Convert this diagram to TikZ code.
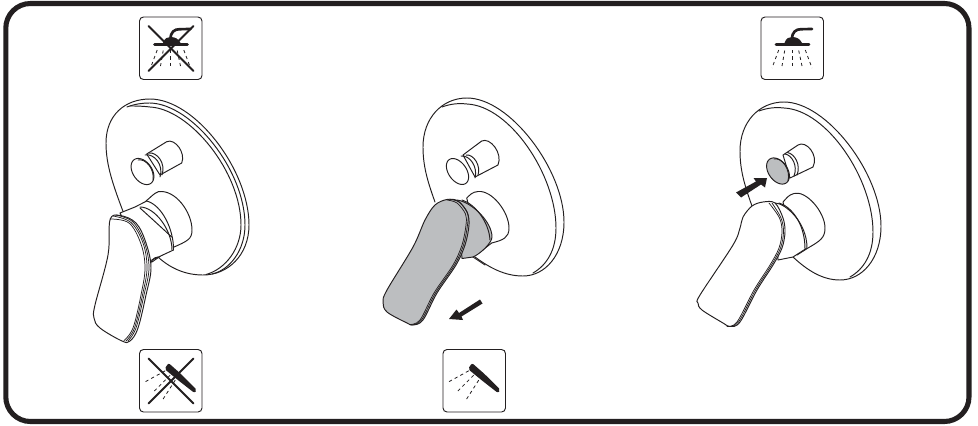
\documentclass[tikz,border=0pt]{standalone}
\definecolor{ink}{RGB}{35,31,32}
\definecolor{levergray}{RGB}{188,190,192}
\newcommand{\TiltEll}[5]{plot[domain=0:360,samples=60,smooth] ({#1+#3*cos(\x)*cos(#5)-#4*sin(\x)*sin(#5)},{#2+#3*cos(\x)*sin(#5)+#4*sin(\x)*cos(#5)})}
\tikzset{
 frameline/.style={draw=ink,line width=3.8pt,rounded corners=18.5pt},
 thin ink/.style={draw=ink,line width=.72pt,line join=round,line cap=round},
 fine ink/.style={draw=ink,line width=.55pt,line join=round,line cap=round},
 white part/.style={thin ink,fill=white},
 gray part/.style={thin ink,fill=levergray},
 solid ink/.style={fill=ink,draw=none},
 spray/.style={draw=ink,line width=.6pt,dash pattern=on 2.4pt off 2.4pt},
 iconbox/.pic={\draw[ink,line width=.7pt,rounded corners=3pt,fill=white] (0,0) rectangle (62.5,62.5);},
 overhead/.pic={
  \draw[ink,line width=2.2pt,line cap=round] (15,27.5) -- (48,27.5);
  \fill[ink] (23.5,26) .. controls (25,21) and (28,20) .. (31,20) .. controls (36,20) and (39,22) .. (41,26) -- cycle;
  \draw[ink,line width=2pt,line cap=round] (31,22) .. controls (31,15) and (35,12.2) .. (40,12.2) -- (51,12);
  \foreach \a/\b/\c/\d in {17.7/33/11/51,23.7/33.5/21/49,31/33/31/51,37.7/33.5/41/49,44.3/33/51/51}
    {\draw[spray] (\a,\b) -- (\c,\d);}
 },
 handshower/.pic={
  \fill[ink,rounded corners=1.5pt] (29,13.5) -- (41.5,24.5) -- (57.5,40.5) -- (55,43.5) -- (39,31) -- (25,19.5) -- cycle;
  \foreach \a/\b/\c/\d in {25.7/21.3/5.7/32.3,30.7/25.7/14/42.3,35.7/30.7/23.3/50}
    {\draw[spray] (\a,\b) -- (\c,\d);}
 },
 crossout/.pic={
  \draw[ink,line width=1.5pt,line cap=round] (9,9) -- (54,54);
  \draw[ink,line width=1.5pt,line cap=round] (54,9) -- (9,54);
 }
}
\begin{document}
\begin{tikzpicture}[x=.75pt,y=-.75pt]
\useasboundingbox (0,0) rectangle (978,425);
\fill[white] (0,0) rectangle (978,425);
\draw[frameline] (5.8,3.5) rectangle (969,421.5);

% ---------- icons
\pic at (139.5,17) {iconbox}; \pic at (139.5,17) {overhead}; \pic at (139.5,17) {crossout};
\pic at (139.5,349.5) {iconbox}; \pic at (139.5,349.5) {handshower}; \pic at (139.5,349.5) {crossout};
\pic at (443,349.5) {iconbox}; \pic at (443,349.5) {handshower};
\pic at (761,17) {iconbox}; \pic at (761,17) {overhead};

% ---------- unit 1
\draw[white part] (124,214) .. controls (113,185) and (106,165) .. (106,143) .. controls (106,115) and (125,99) .. (150,99) .. controls (195,99) and (249,170) .. (249,225) .. controls (249,255) and (228,275) .. (203,275) .. controls (185,275) and (170,268) .. (158,257);
\draw[thin ink] (127,107) .. controls (135,104) and (142,103) .. (150,103) .. controls (192,104) and (245,170) .. (245,225) .. controls (245,250) and (230,270) .. (212,274);
\draw[thin ink] (130,106) .. controls (136,106) and (142,106) .. (150,107) .. controls (190,109) and (241,172) .. (241,225) .. controls (241,248) and (226,269) .. (206,274.5);
% knob
\draw[white part] (146.7,154) -- (166.7,141.7) .. controls (175,138) and (186,153) .. (181.7,163) -- (160,175) -- cycle;
\draw[thin ink] (145,155) .. controls (154,153) and (164,165) .. (160,177);
\draw[thin ink] (149,153) .. controls (157,152) and (166,163) .. (162,175);
\draw[white part] \TiltEll{142.5}{171.5}{14.5}{9.5}{55};
\draw[thin ink] (138,160) .. controls (146,158) and (155,170) .. (153,180);
% hub
\draw[white part] (146,201) .. controls (150,198) and (154,193) .. (158.3,191.7) .. controls (175,189) and (192,212) .. (192,230) .. controls (192,239) and (188,241) .. (171.7,248) -- (152,262) -- cycle;
% neck
\draw[white part] (120,213) -- (135,207) -- (146.7,201) .. controls (162,205) and (174,230) .. (173.5,250) -- (152,260) -- (148,270) -- cycle;
\draw[thin ink] (140,207) .. controls (155,207) and (172,230) .. (172,250);
\draw[thin ink] (140,208) .. controls (150,217) and (162,228) .. (171.7,237);
\draw[thin ink] (152,260) .. controls (154,258) and (156,257) .. (158,257);
% handle
\draw[white part] plot[smooth cycle,tension=.6] coordinates {(110,220) (120,215.5) (136,223) (146,243) (151,268) (146,295) (138,328) (130,341) (122,341) (100,328) (94,318) (95,305) (108,255)};
\draw[fine ink] plot[smooth,tension=.6] coordinates {(116,215) (133,222) (144.5,243) (149,268) (144,295) (136,328) (128,341)};
\draw[fine ink] plot[smooth,tension=.6] coordinates {(113,216) (131,222.5) (143,243) (147,268) (142.5,295) (134.5,328) (126,341)};
\draw[fine ink] plot[smooth,tension=.6] coordinates {(110,219) (129,223) (141,244) (145,268) (141,295) (133,328) (124,340.5)};

% ---------- unit 2
\draw[white part] (435,202) .. controls (427,180) and (423,165) .. (423,147) .. controls (423,118) and (442,98) .. (467,98) .. controls (510,98) and (564,170) .. (564,222) .. controls (564,255) and (545,276) .. (523,276) .. controls (505,276) and (490,268) .. (475,257);
\draw[thin ink] (442,107) .. controls (450,104) and (458,103) .. (467,104) .. controls (510,106) and (556,175) .. (556,228) .. controls (556,250) and (547,265) .. (533,273);
% knob
\draw[white part] (463,155) -- (481.7,141) .. controls (490,137) and (503,153) .. (498,165) -- (475,177) -- cycle;
\draw[thin ink] (461,156) .. controls (470,155) and (478,167) .. (475,178);
\draw[thin ink] (466,155) .. controls (474,154) and (481,166) .. (478,175);
\draw[white part] \TiltEll{457.5}{171.5}{14.5}{9}{55};
% hub and neck
\draw[white part] (466.7,198) .. controls (470,195) and (472,192) .. (478,191.5) .. controls (492,190) and (509,212) .. (509,228) .. controls (509,238) and (503,240) .. (491.7,243) -- (480,252) -- cycle;
\draw[gray part] (457,200) .. controls (472,202) and (492,222) .. (492,237) .. controls (492,243) and (480,254) .. (473,257) -- (462,258.5) -- cycle;
\draw[thin ink] (462,200) .. controls (475,204) and (489,222) .. (490,240);
\draw[thin ink] (473,257) -- (485,265);
% handle
\draw[gray part] plot[smooth cycle,tension=.55] coordinates {(435,205) (447,199.5) (458,201) (467,212) (469,225) (465,245) (456,265) (437,293) (423,320) (413,325) (407,323) (387,312) (383,302) (387,290) (413,247) (425,220)};
\draw[fine ink] plot[smooth,tension=.55] coordinates {(450,199.5) (459,202) (467.5,213) (467.5,225) (463.5,245) (454.5,265) (435.5,293) (421.5,320) (411.5,325)};
\draw[fine ink] plot[smooth,tension=.55] coordinates {(447,200) (457,203) (465.5,214) (466,225) (462,245) (453,265) (434,293) (420,320) (410,324.5)};
% arrow
\fill[solid ink] (449,319) -- (456.5,309.5) -- (459,313) -- (480,299.5) -- (482.5,303.5) -- (461.5,316.5) -- (463,320) -- cycle;

% ---------- unit 3
\draw[white part] (752,206) .. controls (744,184) and (740,169) .. (740,151) .. controls (740,122) and (759,102) .. (784,102) .. controls (827,102) and (881,174) .. (881,226) .. controls (881,259) and (862,280) .. (840,280) .. controls (822,280) and (807,270) .. (793,257);
\draw[thin ink] (759,111) .. controls (767,108) and (775,107) .. (784,108) .. controls (827,110) and (873,179) .. (873,232) .. controls (873,254) and (864,269) .. (850,277);
% knob
\draw[white part] (783,155) -- (798,145) .. controls (806,140) and (819,155) .. (813,167) -- (790,178) -- cycle;
\draw[thin ink] (785,154) .. controls (792,155) and (798,166) .. (794,176);
\draw[thin ink] (787.5,152.5) .. controls (795,154) and (801,165) .. (797,175);
\draw[gray part] \TiltEll{778}{171}{14.5}{9.5}{55};
\draw[thin ink] (774,159) .. controls (782,157) and (791,170) .. (788,181);
% hub and neck
\draw[white part] (783,202) .. controls (786,199) and (788,195) .. (794,193.5) .. controls (806,190) and (825,212) .. (825,228) .. controls (825,238) and (820,241) .. (808,248) -- (797,255) -- cycle;
\draw[white part] (775,203) .. controls (785,203) and (807,222) .. (807,248) -- (793,257) -- (778,260) -- cycle;
\draw[thin ink] (779,203) .. controls (790,206) and (805,222) .. (805,249);
% handle
\draw[white part] plot[smooth cycle,tension=.55] coordinates {(743,217) (752,206) (763,202) (775,203) (783,218) (785,232) (782,248) (773,265) (757,290) (740,322) (730,326.5) (723,323) (702,310) (698,303) (700,295) (733,245) (740,228)};
\draw[fine ink] plot[smooth,tension=.55] coordinates {(772,203) (781,218) (783.5,232) (780.5,248) (771.5,265) (755.5,290) (738.5,322) (728.5,326.5)};
\draw[fine ink] plot[smooth,tension=.55] coordinates {(769,203) (779.5,218) (782,232) (779,248) (770,265) (754,290) (737,322) (727,326.5)};
% arrow
\fill[solid ink] (767,178) -- (765,187.5) -- (761,184.5) -- (741,197.5) -- (736,192.5) -- (756,181.5) -- (753.5,178) -- cycle;
\end{tikzpicture}
\end{document}
